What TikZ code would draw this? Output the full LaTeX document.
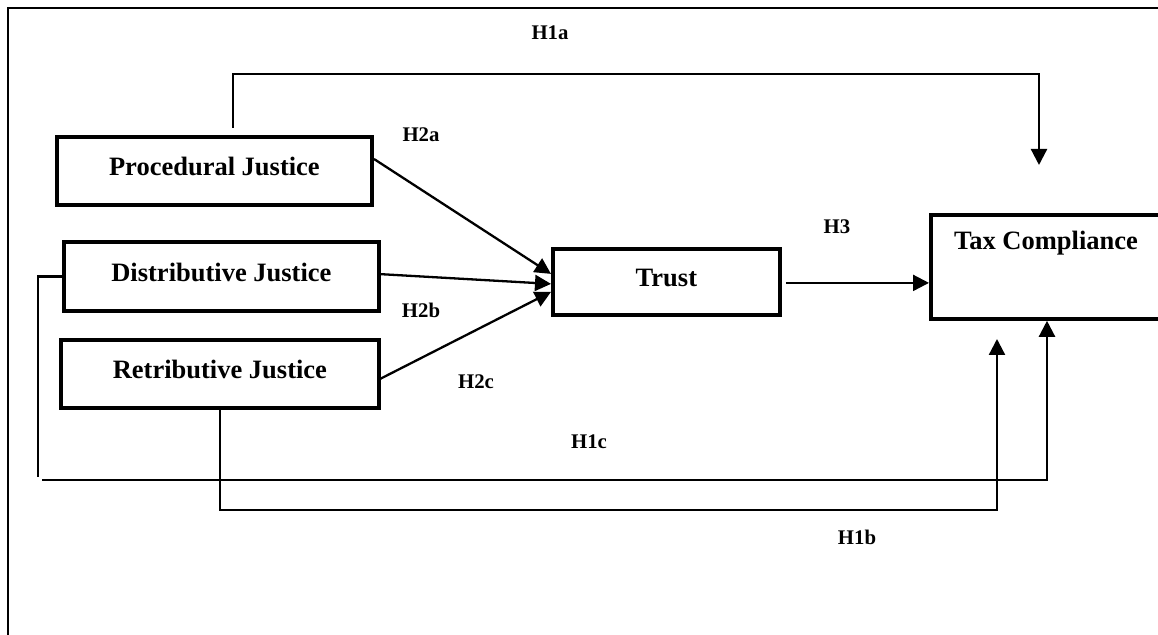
\documentclass[tikz,border=0pt]{standalone}
\usepackage{fontspec}
\setmainfont{Liberation Serif}
\usetikzlibrary{arrows.meta}
\begin{document}
\begin{tikzpicture}[x=0.5pt,y=-0.5pt,
  box/.style={draw,line width=1.9pt,anchor=north west,inner sep=0pt,
    text height=9pt,text depth=4pt,
    font=\fontsize{13.25}{15}\selectfont\bfseries},
  boxtext/.style={inner sep=0pt,font=\fontsize{13.25}{15}\selectfont\bfseries},
  hyp/.style={inner sep=0pt,font=\fontsize{10.4}{12}\selectfont\bfseries},
  link/.style={line width=1.15pt},
  arr/.style={link,-{Triangle[length=8pt,width=8pt]}}]
\useasboundingbox (0,0) rectangle (1158,635);
\clip (0,0) rectangle (1158,635);

% frame
\draw[line width=1.2pt] (8,700) -- (8,8) -- (1220,8);

% constructs
\node[box,minimum width=157.5pt,minimum height=34pt] (pj) at (55,135) {Procedural Justice};
\node[box,minimum width=157.5pt,minimum height=34.5pt] (dj) at (62,240) {Distributive Justice};
\node[box,minimum width=159pt,minimum height=34pt] (rj) at (59,338) {Retributive Justice};
\node[box,minimum width=113.5pt,minimum height=33pt] (tr) at (551,247) {Trust};
\node[box,minimum width=240pt,minimum height=52pt] (tc) at (929,213) {};
\node[boxtext] (tct) at (1046,243) {Tax Compliance};

% paths to trust
\coordinate (a2) at (374,159);
\coordinate (b2) at (378,274);
\coordinate (c2) at (378,380);
\draw[arr] (a2) -- ([yshift=4pt]tr.west);
\draw[arr] (b2) -- ([yshift=-1pt]tr.west);
\draw[arr] (c2) -- ([yshift=-5pt]tr.west);

% trust to compliance
\draw[arr] ([xshift=2pt,yshift=-0.5pt]tr.east) -- ([yshift=-0.5pt]tr.east -| tc.west);

% direct path H1a
\coordinate (h1a0) at (233,128);
\coordinate (h1a1) at (1039,165);
\draw[arr] (h1a0) -- (233,74) -- (1039,74) -- (h1a1);

% direct path H1c
\coordinate (h1c0) at (38,477);
\coordinate (h1c1) at (42,480);
\coordinate (h1c2) at (1047,480);
\draw[link] (dj.west) -| (h1c0);
\draw[arr] (h1c1) -- (h1c2) -- (h1c2 |- tc.south);

% direct path H1b
\coordinate (h1b1) at (997,510);
\coordinate (h1b2) at (997,339);
\draw[arr] (rj.south) |- (h1b1) -- (h1b2);

% hypothesis labels
\node[hyp] (l1a) at (550,33) {H1a};
\node[hyp] (l2a) at (421,135) {H2a};
\node[hyp] (l2b) at (421,310) {H2b};
\node[hyp] (l2c) at (476,382) {H2c};
\node[hyp] (l3) at (837,227) {H3};
\node[hyp] (l1c) at (589,442) {H1c};
\node[hyp] (l1b) at (857,537) {H1b};
\end{tikzpicture}
\end{document}
